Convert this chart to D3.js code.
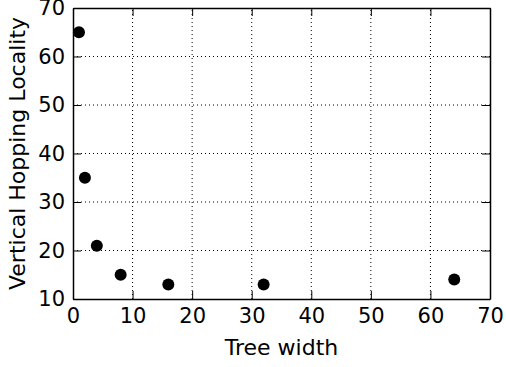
<!DOCTYPE html>
<html>
<head>
<meta charset="utf-8">
<script src="https://cdn.jsdelivr.net/npm/d3@7"></script>
<style>
  body { margin: 0; background: #fff; }
  text { font-family: "DejaVu Sans", sans-serif; fill: #000; }
</style>
</head>
<body>
<div id="chart"></div>
<script>
// tree widths and the locality measured for each
const treeWidth = [1, 2, 4, 8, 16, 32, 64]
const locality = [65, 35, 21, 15, 13, 13, 14]
const xTicks = [0, 10, 20, 30, 40, 50, 60, 70]
const yTicks = [10, 20, 30, 40, 50, 60, 70]

const width = 506, height = 367
const margin = { top: 8, right: 16, bottom: 68, left: 73 }

const svg = d3.select("#chart").append("svg")
    .attr("width", width)
    .attr("height", height)

const x = d3.scaleLinear([0, 70], [margin.left, width - margin.right])
const y = d3.scaleLinear([10, 70], [height - margin.bottom, margin.top])

// dotted grid
const grid = svg.append("g")
    .attr("stroke", "#000")
    .attr("stroke-width", 1)
    .attr("stroke-dasharray", "1,3")
grid.selectAll(".gx").data(xTicks.slice(1, -1)).join("line")
    .attr("x1", d => x(d)).attr("x2", d => x(d))
    .attr("y1", y(10)).attr("y2", y(70))
grid.selectAll(".gy").data(yTicks.slice(1, -1)).join("line")
    .attr("x1", x(0)).attr("x2", x(70))
    .attr("y1", d => y(d)).attr("y2", d => y(d))

// axes with inward ticks on all four sides
const tick = 8
const tickFont = 21
const labelFont = 22
svg.append("g")
    .attr("transform", `translate(0,${y(10)})`)
    .call(d3.axisBottom(x).tickValues(xTicks).tickSize(-tick).tickPadding(9).tickSizeOuter(0))
svg.append("g")
    .attr("transform", `translate(${x(0)},0)`)
    .call(d3.axisLeft(y).tickValues(yTicks).tickSize(-tick).tickPadding(8).tickSizeOuter(0))
svg.append("g")
    .attr("transform", `translate(0,${y(70)})`)
    .call(d3.axisTop(x).tickValues(xTicks).tickSize(-tick).tickFormat("").tickSizeOuter(0))
svg.append("g")
    .attr("transform", `translate(${x(70)},0)`)
    .call(d3.axisRight(y).tickValues(yTicks).tickSize(-tick).tickFormat("").tickSizeOuter(0))

svg.selectAll(".domain").attr("stroke-width", 1.5)
svg.selectAll(".tick line").attr("stroke-width", 1)
svg.selectAll(".tick text")
    .style("font-family", "DejaVu Sans, sans-serif")
    .attr("font-size", tickFont)
    .attr("fill", "#000")

// points
svg.append("g").selectAll("circle")
    .data(treeWidth)
    .join("circle")
    .attr("cx", d => x(d))
    .attr("cy", (d, i) => y(locality[i]))
    .attr("r", 6)
    .attr("fill", "#000")

// axis titles
svg.append("text")
    .attr("x", (x(0) + x(70)) / 2)
    .attr("y", 355)
    .attr("text-anchor", "middle")
    .attr("font-size", labelFont)
    .text("Tree width")
svg.append("text")
    .attr("transform", `translate(25,${(y(10) + y(70)) / 2}) rotate(-90)`)
    .attr("text-anchor", "middle")
    .attr("font-size", labelFont)
    .text("Vertical Hopping Locality")
</script>
</body>
</html>
